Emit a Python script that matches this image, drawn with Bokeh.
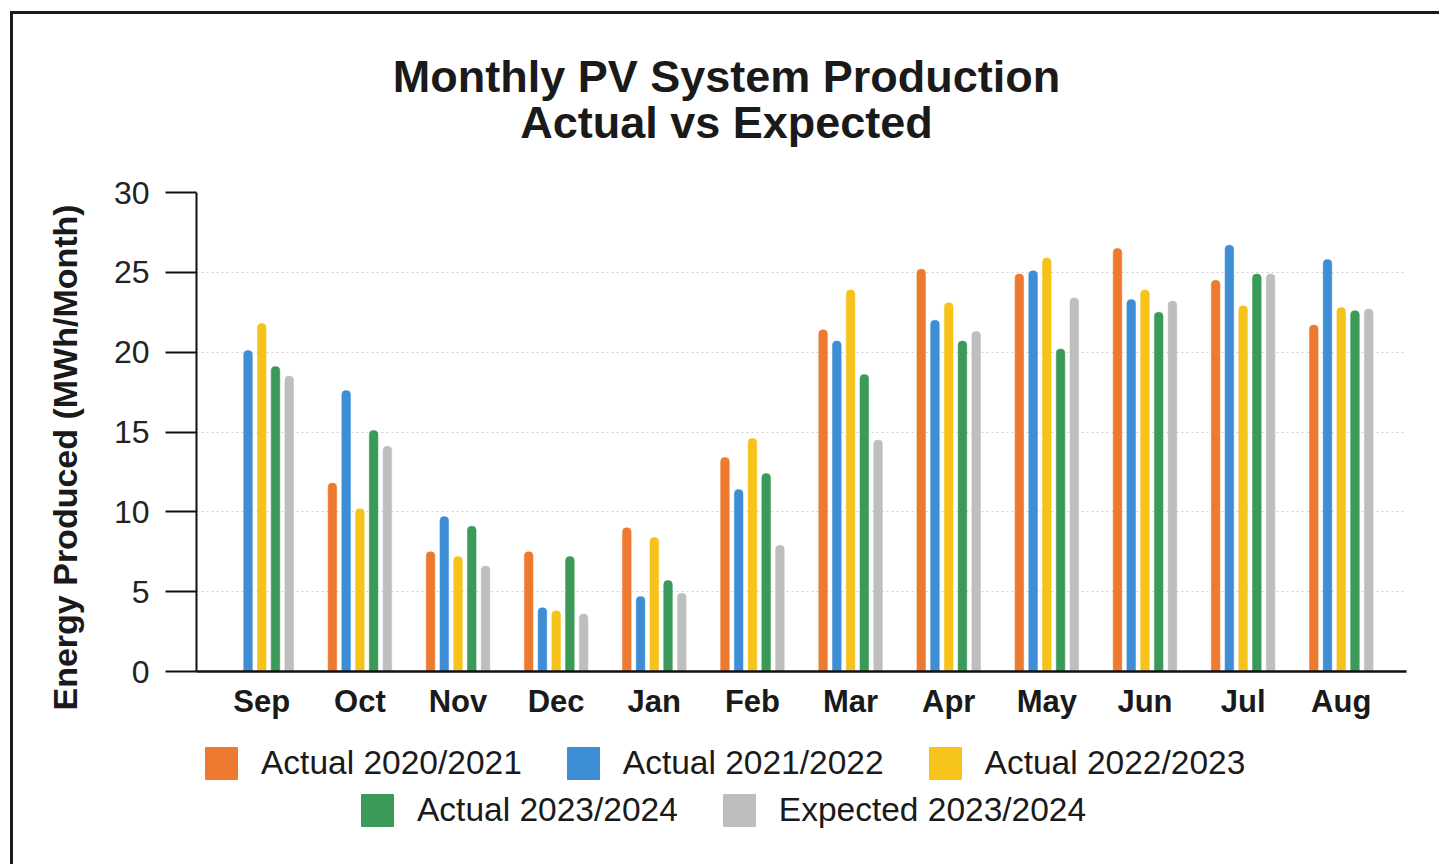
from bokeh.plotting import figure
from bokeh.layouts import column
from bokeh.models import (ColumnDataSource, FactorRange, Range1d, FixedTicker,
                          Title, Label, Legend, LegendItem)
from bokeh.transform import dodge
from bokeh.embed import file_html
from bokeh.resources import INLINE

NAN = float("nan")

months = ["Sep", "Oct", "Nov", "Dec", "Jan", "Feb", "Mar", "Apr", "May", "Jun", "Jul", "Aug"]
actual_2020_2021 = [NAN, 11.8, 7.5, 7.5, 9.0, 13.4, 21.4, 25.2, 24.9, 26.5, 24.5, 21.7]
actual_2021_2022 = [20.1, 17.6, 9.7, 4.0, 4.7, 11.4, 20.7, 22.0, 25.1, 23.3, 26.7, 25.8]
actual_2022_2023 = [21.8, 10.2, 7.2, 3.8, 8.4, 14.6, 23.9, 23.1, 25.9, 23.9, 22.9, 22.8]
actual_2023_2024 = [19.1, 15.1, 9.1, 7.2, 5.7, 12.4, 18.6, 20.7, 20.2, 22.5, 24.9, 22.6]
expected_2023_2024 = [18.5, 14.1, 6.6, 3.6, 4.9, 7.9, 14.5, 21.3, 23.4, 23.2, 24.9, 22.7]

series_labels = ["Actual 2020/2021", "Actual 2021/2022", "Actual 2022/2023",
                 "Actual 2023/2024", "Expected 2023/2024"]
series_keys = ["a20", "a21", "a22", "a23", "e23"]
series_colors = ["#EE7A30", "#3E8ED6", "#F6C31B", "#3C9A58", "#BEBEBE"]
y_ticks = [0, 5, 10, 15, 20, 25, 30]

source = ColumnDataSource(data=dict(
    month=months,
    a20=actual_2020_2021,
    a21=actual_2021_2022,
    a22=actual_2022_2023,
    a23=actual_2023_2024,
    e23=expected_2023_2024,
))

FONT = "Liberation Sans"
W = 1426


def blank_fig(h):
    f = figure(width=W, height=h, x_range=Range1d(0, 1), y_range=Range1d(0, 1),
               x_axis_location=None, y_axis_location=None, min_border=0,
               output_backend="svg", toolbar_location=None, title=None)
    f.outline_line_color = None
    f.background_fill_color = "white"
    f.border_fill_color = "white"
    f.grid.visible = False
    return f


# ---------------- title strip ----------------
pt = blank_fig(156)
for txt, yy in [("Monthly PV System Production", 94), ("Actual vs Expected", 48)]:
    pt.add_layout(Label(x=530, y=yy, x_units="screen", y_units="screen", text=txt,
                        text_align="center", text_baseline="alphabetic",
                        text_font=FONT, text_font_size="45px", text_font_style="bold",
                        text_color="#1a1a1a"))

# ---------------- main chart ----------------
p = figure(
    x_range=FactorRange(*months, range_padding=0.165, range_padding_units="absolute"),
    y_range=Range1d(0, 30),
    width=W, height=565,
    min_border_left=183, min_border_right=33, min_border_top=22, min_border_bottom=64,
    output_backend="svg", toolbar_location=None, title=None,
)
p.outline_line_color = None
p.background_fill_color = "white"
p.border_fill_color = "white"

offsets = [-0.28, -0.14, 0.0, 0.14, 0.28]
for key, col, off in zip(series_keys, series_colors, offsets):
    p.vbar(x=dodge("month", off, range=p.x_range), top=key, bottom=0, width=0.088,
           source=source, fill_color=col, line_color=col, line_width=0.5,
           border_radius=(4, 4, 0, 0))

p.xgrid.grid_line_color = None
p.ygrid.grid_line_color = "#cfcfcf"
p.ygrid.grid_line_dash = "2 3"
p.ygrid.grid_line_width = 1

p.yaxis.ticker = FixedTicker(ticks=y_ticks)
p.yaxis.axis_line_color = "#111111"
p.yaxis.axis_line_width = 2
p.yaxis.major_tick_line_color = "#111111"
p.yaxis.major_tick_line_width = 2
p.yaxis.major_tick_out = 31
p.yaxis.major_tick_in = 0
p.yaxis.minor_tick_line_color = None
p.yaxis.major_label_standoff = 16
p.yaxis.major_label_text_font = FONT
p.yaxis.major_label_text_font_size = "32px"
p.yaxis.major_label_text_color = "#222222"

p.xaxis.axis_line_color = "#111111"
p.xaxis.axis_line_width = 2.5
p.xaxis.major_tick_line_color = None
p.xaxis.major_tick_out = 0
p.xaxis.major_tick_in = 0
p.xaxis.minor_tick_line_color = None
p.xaxis.major_label_standoff = 12
p.xaxis.major_label_text_font = FONT
p.xaxis.major_label_text_font_size = "31px"
p.xaxis.major_label_text_font_style = "bold"
p.xaxis.major_label_text_color = "#1a1a1a"

p.add_layout(Title(text="Energy Produced (MWh/Month)", align="left", offset=-39,
                   text_font=FONT, text_font_size="34px", text_font_style="bold",
                   text_color="#1a1a1a", standoff=54), "left")

# ---------------- legend strip ----------------
pl = blank_fig(129)
proxies = [pl.vbar(x=[0.5], top=[NAN], width=0.1, fill_color=c, line_color=c)
           for c in series_colors]


def make_legend(idx, loc, standoff):
    items = [LegendItem(label=series_labels[i], renderers=[proxies[i]]) for i in idx]
    lg = Legend(items=items, location=loc, orientation="horizontal",
                glyph_width=40, glyph_height=40, label_height=32,
                label_standoff=standoff, spacing=41, padding=0, margin=0,
                border_line_color=None, background_fill_alpha=0,
                label_text_font=FONT, label_text_font_size="33.5px",
                label_text_color="#1a1a1a")
    pl.add_layout(lg, "center")


make_legend([0, 1, 2], (5, 81), 20)
make_legend([3, 4], (161, 34), 20)

layout = column(pt, p, pl, spacing=0)
layout.margin = (11, 0, 0, 10)
layout.styles = {"border-top": "3px solid #1c1c1c", "border-left": "3px solid #1c1c1c"}

open("out.html", "w").write(file_html(layout, INLINE))
